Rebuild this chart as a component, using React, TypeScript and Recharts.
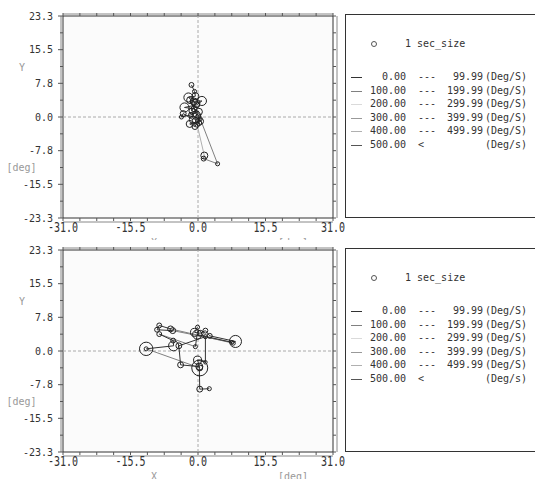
import React from 'react';
import { ScatterChart, Scatter, XAxis, YAxis, ZAxis, ReferenceLine, ReferenceArea } from 'recharts';

// axis ticks (major carry labels, minor are just marks)
const xMajorTicks = [-31, -15.5, 0, 15.5, 31];
const xMinorTicks = [-27.125, -23.25, -19.375, -11.625, -7.75, -3.875, 3.875, 7.75, 11.625, 19.375, 23.25, 27.125];
const yMajorTicks = [-23.3, -15.53, -7.77, 0, 7.77, 15.53, 23.3];
const yMinorTicks = [-19.42, -11.65, -3.88, 3.88, 11.65, 19.42];

// speed bands for the legend
const bandFrom = ['0.00', '100.00', '200.00', '300.00', '400.00', '500.00'];
const bandTo = ['99.99', '199.99', '299.99', '399.99', '499.99', ''];
const bandUnit = ['(Deg/S)', '(Deg/S)', '(Deg/S)', '(Deg/S)', '(Deg/S)', '(Deg/s)'];
const bandColors = ['#333', '#808080', '#dadada', '#999', '#b0b0b0', '#555'];

// upper trace
const topX = [-1.5, -0.8, -0.6, -2.2, -1.0, 0.9, -0.3, -3.1, -0.9, 0.2, -1.6, -3.8, -3.4, -1.2, -0.4, 0.6, -1.9, -0.7, 0.5, 4.5, 1.3, 1.45, -0.2, -1.4, -0.5, -1.8, 0.1, 0.3, -0.6];
const topY = [7.4, 5.9, 4.8, 4.5, 3.6, 3.7, 2.8, 2.2, 1.9, 1.2, 0.5, 0.0, 0.8, -0.6, 0.4, -1.0, -1.6, -2.2, -0.4, -10.8, -9.6, -8.9, -1.8, 1.4, 3.2, 3.9, 0.2, -1.4, -0.8];
const topDwell = [0.03, 0.01, 0.1, 0.19, 0.1, 0.19, 0.06, 0.19, 0.06, 0.1, 0.03, 0.01, 0.06, 0.1, 0.14, 0.06, 0.1, 0.06, 0.01, 0.01, 0.03, 0.1, 0.03, 0.06, 0.14, 0.1, 0.03, 0.03, 0.06];
const topSpeed = [0, 40, 30, 60, 45, 70, 50, 90, 80, 40, 60, 75, 20, 85, 30, 35, 90, 40, 55, 160, 110, 25, 430, 120, 60, 45, 70, 50, 30];

// lower trace
const botX = [-0.1, -0.8, 0.5, 1.7, 2.7, 8.6, 8.1, -6.3, -8.9, -9.4, -5.8, 7.8, -0.2, -0.6, -8.9, -5.7, -5.6, -11.9, -11.9, 0.4, 0.4, -0.1, 1.7, 1.7, -4.4, -4.0, 0.3, 0.4, 2.6];
const botY = [5.5, 4.3, 4.1, 4.7, 3.5, 2.2, 1.8, 5.1, 5.9, 4.9, 4.7, 2.0, 3.8, 1.0, 3.9, 2.4, 1.2, 0.5, 0.5, -3.9, -3.9, -2.1, -2.6, 3.3, 1.2, -3.2, -3.6, -8.8, -8.7];
const botDwell = [0.01, 0.14, 0.06, 0.03, 0.03, 0.36, 0.01, 0.06, 0.03, 0.03, 0.06, 0.0, 0.19, 0.01, 0.03, 0.03, 0.24, 0.45, 0.01, 0.66, 0.06, 0.14, 0.0, 0.01, 0.06, 0.06, 0.1, 0.06, 0.01];
const botSpeed = [0, 40, 30, 25, 35, 90, 20, 120, 60, 30, 70, 140, 95, 45, 110, 60, 35, 80, 10, 130, 15, 40, 30, 70, 65, 50, 55, 60, 30];

const MONO = "'DejaVu Sans Mono', monospace";
const xTicks = [...xMajorTicks, ...xMinorTicks].sort((a, b) => a - b);
const yTicks = [...yMajorTicks, ...yMinorTicks].sort((a, b) => a - b);
const isMajor = (v: number, list: number[]) => list.some((m) => Math.abs(m - v) < 1e-6);
const bandOf = (v: number) => Math.min(5, Math.floor(v / 100));
const AXIS = '#888';
const TICK = '#555';

function BottomTick({ x, y, payload }: any) {
    const major = isMajor(payload.value, xMajorTicks);
    return (
        <g>
            <line x1={x} y1={y} x2={x} y2={y + 3} stroke={TICK} />
            {major && (
                <text transform={`translate(${x},${y + 14}) scale(1,1.4)`} textAnchor="middle" fontSize={10} fontFamily={MONO} fill="#333">
                    {payload.value.toFixed(1)}
                </text>
            )}
        </g>
    );
}

function TopTick({ x, y }: any) {
    return <line x1={x} y1={y} x2={x} y2={y - 3} stroke={TICK} />;
}

function LeftTick({ x, y, payload }: any) {
    const major = isMajor(payload.value, yMajorTicks);
    return (
        <g>
            <line x1={x - (major ? 5 : 3)} y1={y} x2={x} y2={y} stroke={TICK} />
            {major && (
                <text x={x - 10} y={y + 3.6} textAnchor="end" fontSize={10} fontFamily={MONO} fill="#333">
                    {payload.value.toFixed(1)}
                </text>
            )}
        </g>
    );
}

function RightTick({ x, y }: any) {
    return <line x1={x} y1={y} x2={x + 3} y2={y} stroke={TICK} />;
}

const label = (text: string, cx: number, cy: number) => (
    <div style={{ position: 'absolute', left: cx - 20, top: cy - 6, width: 40, lineHeight: '12px', textAlign: 'center', fontFamily: MONO, fontSize: 10, color: '#999' }}>
        {text}
    </div>
);

function Legend() {
    return (
        <div style={{ position: 'absolute', left: 345, top: 14, width: 200, height: 202, border: '1px solid #333', background: '#fff', fontFamily: MONO, fontSize: 10, color: '#333' }}>
            <svg style={{ position: 'absolute', left: 24, top: 25 }} width={8} height={8}>
                <circle cx={4} cy={4} r={2.5} fill="none" stroke="#555" />
            </svg>
            <div style={{ position: 'absolute', left: 59, top: 23, lineHeight: '12px', whiteSpace: 'pre' }}>1 sec_size</div>
            {bandFrom.map((f, i) => (
                <div key={f} style={{ position: 'absolute', left: 0, top: 56 + i * 13.6, width: 200, height: 12, lineHeight: '12px' }}>
                    <div style={{ position: 'absolute', left: 5, top: 6, width: 11, height: 1, background: bandColors[i] }} />
                    <span style={{ position: 'absolute', right: 140, textAlign: 'right' }}>{f}</span>
                    <span style={{ position: 'absolute', left: 72 }}>{i < 5 ? '---' : '<'}</span>
                    <span style={{ position: 'absolute', right: 63, textAlign: 'right' }}>{bandTo[i]}</span>
                    <span style={{ position: 'absolute', left: 139 }}>{bandUnit[i]}</span>
                </div>
            ))}
        </div>
    );
}

function Panel({ top, xs, ys, dwell, speed }: { top: number; xs: number[]; ys: number[]; dwell: number[]; speed: number[] }) {
    const data = xs.map((x, i) => ({ x, y: ys[i], z: dwell[i] }));

    const trail = (props: any) => {
        const pts = props.points || [];
        return (
            <g>
                {pts.slice(1).map((p: any, i: number) => (
                    <line key={i} x1={pts[i].x} y1={pts[i].y} x2={p.x} y2={p.y} stroke={bandColors[bandOf(speed[i + 1])]} strokeWidth={1} />
                ))}
            </g>
        );
    };

    return (
        <div style={{ position: 'absolute', left: 0, top, width: 535, height: 245 }}>
            <div style={{ position: 'absolute', left: 0, top: 6, width: 535, height: 239, background: '#fff' }} />
            <div style={{ position: 'absolute', left: 0.5, top: 0.5 }}>
                <ScatterChart width={345} height={234} margin={{ top: 0, right: 0, bottom: 0, left: 0 }}>
                    <XAxis xAxisId="b" className="ax-b" type="number" dataKey="x" domain={[-31, 31]} allowDataOverflow ticks={xTicks} interval={0}
                        height={17} tickSize={0} tickMargin={0} tickLine={false} stroke={AXIS} tick={(p: any) => <BottomTick {...p} />} />
                    <XAxis xAxisId="t" className="ax-t" orientation="top" type="number" dataKey="x" domain={[-31, 31]} allowDataOverflow ticks={xTicks} interval={0}
                        height={15} tickSize={0} tickMargin={0} tickLine={false} stroke={AXIS} tick={(p: any) => <TopTick {...p} />} />
                    <YAxis yAxisId="l" className="ax-l" type="number" dataKey="y" domain={[-23.3, 23.3]} allowDataOverflow ticks={yTicks} interval={0}
                        width={62} tickSize={0} tickMargin={0} tickLine={false} stroke={AXIS} tick={(p: any) => <LeftTick {...p} />} />
                    <YAxis yAxisId="r" className="ax-r" orientation="right" type="number" dataKey="y" domain={[-23.3, 23.3]} allowDataOverflow ticks={yTicks} interval={0}
                        width={13} tickSize={0} tickMargin={0} tickLine={false} stroke={AXIS} tick={(p: any) => <RightTick {...p} />} />
                    <ZAxis dataKey="z" domain={[0, 1]} range={[10, 300]} />
                    <ReferenceArea xAxisId="b" yAxisId="l" x1={-31} x2={31} y1={-23.3} y2={23.3} fill="#fbfbfb" fillOpacity={1} stroke="#333" />
                    <ReferenceLine xAxisId="b" yAxisId="l" x={0} stroke="#aaa" strokeDasharray="3 2" />
                    <ReferenceLine xAxisId="b" yAxisId="l" y={0} stroke="#aaa" strokeDasharray="3 2" />
                    <Scatter xAxisId="b" yAxisId="l" data={data} fill="none" stroke="#222" line={trail} isAnimationActive={false} />
                </ScatterChart>
            </div>
            {label('Y', 22, 68)}
            {label('[deg]', 21.5, 168)}
            {label('X', 154, 243)}
            {label('[deg]', 293, 243)}
            <Legend />
        </div>
    );
}

export default function App() {
    return (
        <div style={{ position: 'absolute', left: 0, top: 0, width: 535, height: 479, overflow: 'hidden', background: '#fff' }}>
            <style>{`g.ax-b{transform:translate(0px,4px)}g.ax-t{transform:translate(0px,-2px)}g.ax-l{transform:translate(-2px,0px)}g.ax-r{transform:translate(4px,0px)}`}</style>
            <Panel top={0} xs={topX} ys={topY} dwell={topDwell} speed={topSpeed} />
            <Panel top={234} xs={botX} ys={botY} dwell={botDwell} speed={botSpeed} />
        </div>
    );
}
